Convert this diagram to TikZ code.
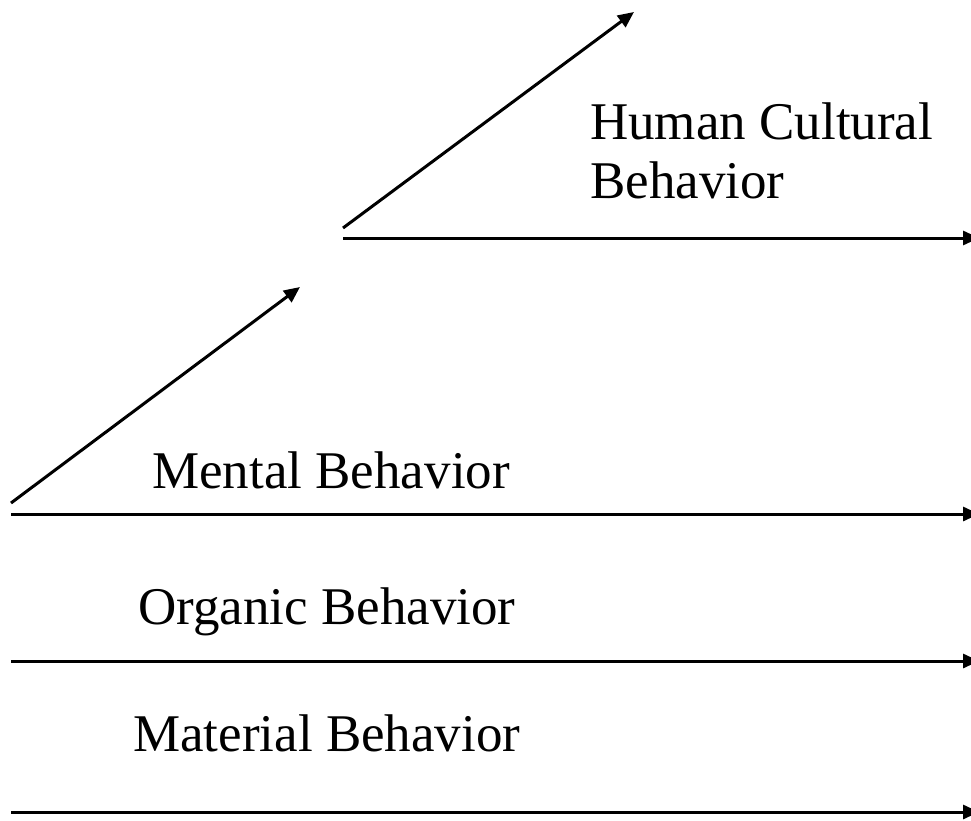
\documentclass[tikz,border=0pt]{standalone}
\usepackage{fontspec}
\setmainfont{Liberation Serif}
\usetikzlibrary{arrows.meta}
\begin{document}
\begin{tikzpicture}[x=1pt,y=-1pt,
  conn/.style={line width=3pt,-{Triangle[length=16pt,width=14pt]}},
  lbl/.style={anchor=base west,inner sep=0pt,font=\fontsize{53}{59}\selectfont,align=left}]
\useasboundingbox (0,0) rectangle (971,821);
% coordinates
\coordinate (d1s) at (11,503);
\coordinate (d1e) at (300,287);
\coordinate (d2s) at (343,228);
\coordinate (d2e) at (634,12);
\coordinate (h0s) at (343,238);
\coordinate (h0e) at (979,238);
\coordinate (h1s) at (11,514);
\coordinate (h1e) at (979,514);
\coordinate (h2s) at (11,661);
\coordinate (h2e) at (979,661);
\coordinate (h3s) at (11,812);
\coordinate (h3e) at (979,812);
% labels
\node[lbl] (human) at (590,199) {Human Cultural\\Behavior};
\node[lbl] (mental) at (152,488) {Mental Behavior};
\node[lbl] (organic) at (138,624) {Organic Behavior};
\node[lbl] (material) at (133,751) {Material Behavior};
% connectors
\draw[conn] (d1s) -- (d1e);
\draw[conn] (d2s) -- (d2e);
\draw[conn] (h0s) -- (h0e);
\draw[conn] (h1s) -- (h1e);
\draw[conn] (h2s) -- (h2e);
\draw[conn] (h3s) -- (h3e);
\end{tikzpicture}
\end{document}
